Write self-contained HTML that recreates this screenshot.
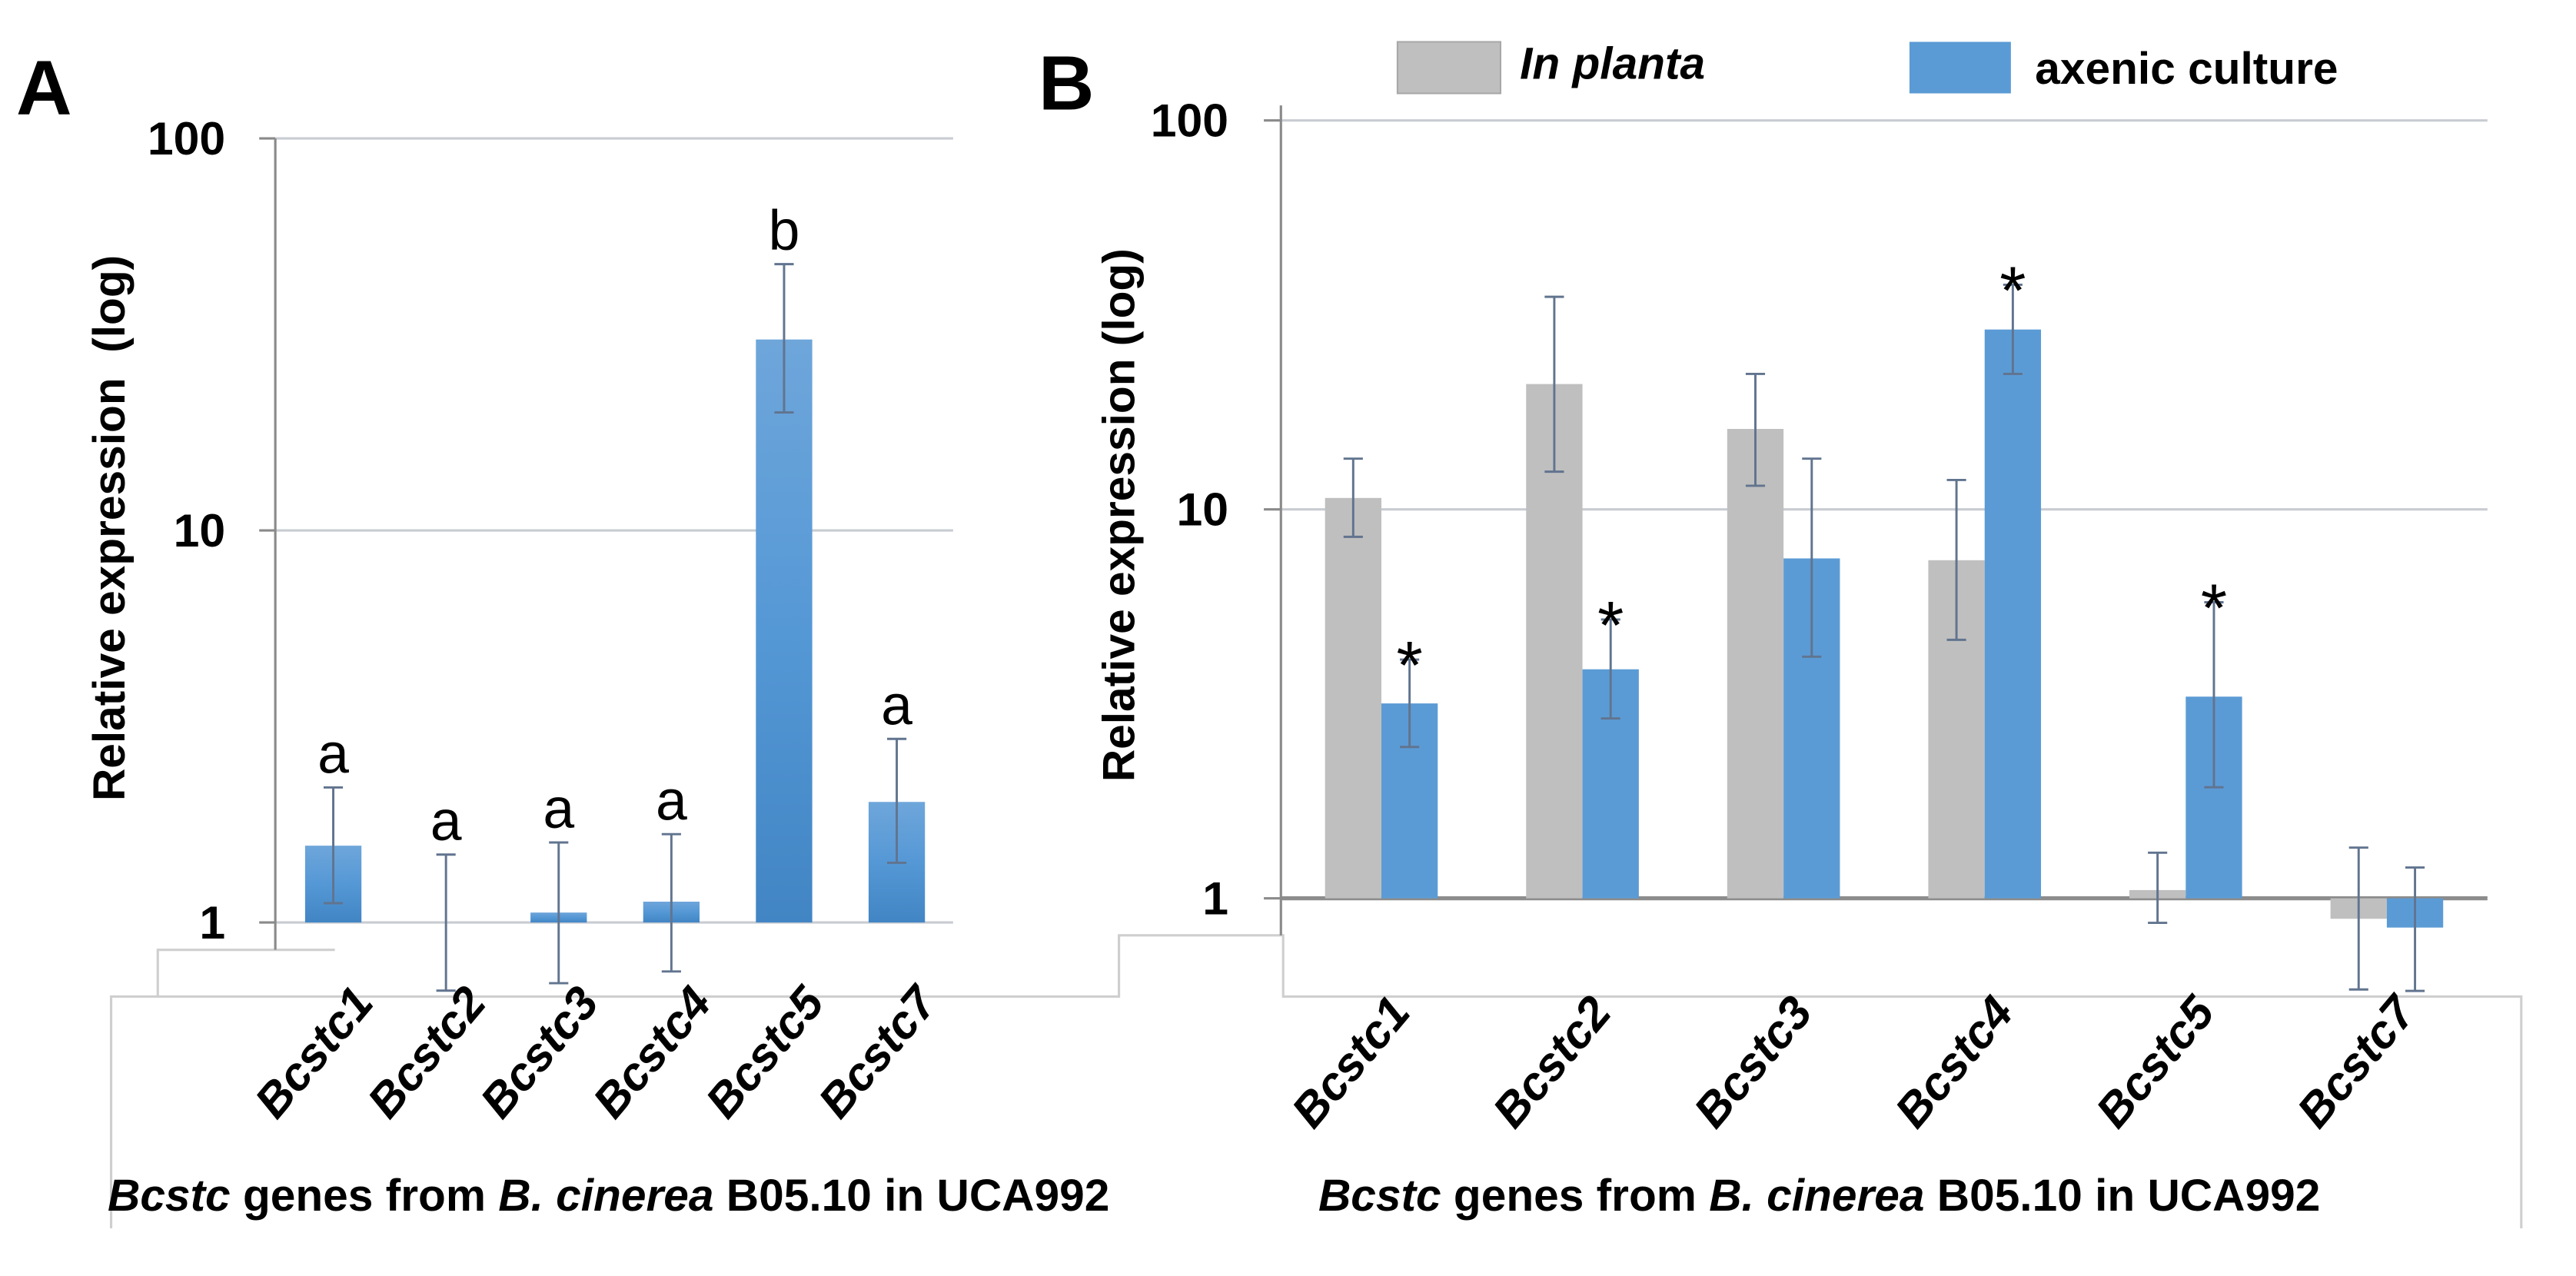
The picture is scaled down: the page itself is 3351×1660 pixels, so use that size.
<!DOCTYPE html>
<html><head><meta charset="utf-8"><style>
html,body{margin:0;padding:0;background:#fff;}
svg{display:block;}
text{font-family:"Liberation Sans",Arial,sans-serif;}
</style></head>
<body>
<svg id="chart" width="3351" height="1660" viewBox="0 0 1600 792.6" preserveAspectRatio="none" xmlns="http://www.w3.org/2000/svg">
<defs>
<linearGradient id="gA" x1="0" y1="0" x2="0" y2="1">
<stop offset="0" stop-color="#6ea6da"/><stop offset="0.5" stop-color="#5598d6"/><stop offset="1" stop-color="#4285c4"/>
</linearGradient>
</defs>
<g id="frame" fill="none" stroke="#cfcfcf" stroke-width="1.5">
<polyline points="208,590 98,590 98,619 69,619 69,763"/>
<polyline points="98,619 695,619 695,581 797,581 797,619 1566,619 1566,763"/>
</g>
<text x="10" y="71" font-size="48" font-weight="bold">A</text>
<text x="645" y="68" font-size="48" font-weight="bold">B</text>
<g id="pa"></g>
<g id="pb"></g>
<g>
<rect x="868" y="26" width="64" height="32" fill="#bfbfbf" stroke="#a8a8a8"/>
<text x="944" y="49" font-size="28" font-weight="bold" font-style="italic">In planta</text>
<rect x="1186" y="26" width="63" height="32" fill="#5b9bd5"/>
<text x="1264" y="52" font-size="28" font-weight="bold">axenic culture</text>
</g>
<text x="70" y="328" font-size="28" font-weight="bold" text-anchor="middle" transform="rotate(-90 70 328)" dominant-baseline="middle" xml:space="preserve">Relative expression  (log)</text>
<text x="697" y="320" font-size="28" font-weight="bold" text-anchor="middle" transform="rotate(-90 697 320)" dominant-baseline="middle">Relative expression (log)</text>
<text x="378" y="752" font-size="28" font-weight="bold" text-anchor="middle"><tspan font-style="italic">Bcstc</tspan> genes from <tspan font-style="italic">B. cinerea</tspan> B05.10 in UCA992</text>
<text x="1130" y="752" font-size="28" font-weight="bold" text-anchor="middle"><tspan font-style="italic">Bcstc</tspan> genes from <tspan font-style="italic">B. cinerea</tspan> B05.10 in UCA992</text>
</svg>
<script>
const NS='http://www.w3.org/2000/svg';
// Panel A data
const catsA=['Bcstc1','Bcstc2','Bcstc3','Bcstc4','Bcstc5','Bcstc7'];
const valsA=[1.57,1.0,1.06,1.13,30.7,2.03];
const errHiA=[2.21,1.49,1.60,1.68,47.8,2.94];
const errLoA=[1.12,0.67,0.70,0.75,20.0,1.42];
const lettersA=['a','a','a','a','b','a'];
// Panel B data
const catsB=['Bcstc1','Bcstc2','Bcstc3','Bcstc4','Bcstc5','Bcstc7'];
const plantaB=[10.7,21.0,16.1,7.4,1.05,0.886];
const plantaHiB=[13.5,35.2,22.3,11.9,1.31,1.35];
const plantaLoB=[8.5,12.5,11.5,4.62,0.865,0.583];
const axenicB=[3.17,3.88,7.48,29.0,3.3,0.841];
const axenicHiB=[4.11,5.21,13.5,37.8,5.77,1.20];
const axenicLoB=[2.45,2.9,4.18,22.3,1.93,0.578];
const starB=[true,true,false,true,true,false];
const ticks=[1,10,100];
const tickLabels=['1','10','100'];

function mk(parent,tag,attrs){const e=document.createElementNS(NS,tag);for(const k in attrs)e.setAttribute(k,attrs[k]);parent.appendChild(e);return e;}
function errbar(g,x,hi,lo,w){
  const e=mk(g,'path',{d:`M${x},${hi}V${lo}M${x-w},${hi}H${x+w}M${x-w},${lo}H${x+w}`,stroke:'#61748f','stroke-width':1.4,fill:'none'});
  
  
}

// Panel A
(function(){
  const g=document.getElementById('pa');
  const y=v=>573-Math.log10(v)*243.5;
  const x=i=>207+i*70;
  ticks.forEach((t,i)=>{
    const l=mk(g,'line',{x1:171,x2:592,y1:y(t),y2:y(t),stroke:'#c8ccd2','stroke-width':1.5});
    
    
    mk(g,'line',{x1:161,x2:171,y1:y(t),y2:y(t),stroke:'#8a8a8a','stroke-width':1.5});
    const tx=mk(g,'text',{x:140,y:y(t)+10,'font-size':29,'font-weight':'bold','text-anchor':'end'});
    tx.textContent=tickLabels[i];
    
    
  });
  const ax=mk(g,'line',{x1:171,x2:171,y1:86,y2:590,stroke:'#8a8a8a','stroke-width':1.5});
  
  
  catsA.forEach((c,i)=>{
    const top=y(valsA[i]),base=y(1);
    if(top<base-0.5){
      const r=mk(g,'rect',{x:x(i)-17.5,y:top,width:35,height:base-top,fill:'url(#gA)'});
      
      
    }
    errbar(g,x(i),y(errHiA[i]),y(errLoA[i]),6);
    const lt=mk(g,'text',{x:x(i),y:y(errHiA[i])-9,'font-size':35,'text-anchor':'middle'});
    lt.textContent=lettersA[i];
    
    
    const cx=x(i)+10,cy=610;
    const t=mk(g,'text',{x:cx,y:cy,'font-size':29,'font-weight':'bold','font-style':'italic','text-anchor':'end',transform:`rotate(-50 ${cx} ${cy})`,'dominant-baseline':'hanging'});
    t.textContent=c;
    
    
  });
})();

// Panel B
(function(){
  const g=document.getElementById('pb');
  const y=v=>558-Math.log10(v)*241.6;
  const x=i=>858+i*124.9;
  ticks.forEach((t,i)=>{
    const l=mk(g,'line',{x1:796,x2:1545,y1:y(t),y2:y(t),stroke:t===1?'#8c8c8c':'#c8ccd2','stroke-width':t===1?2.5:1.5});
    
    
    mk(g,'line',{x1:785,x2:796,y1:y(t),y2:y(t),stroke:'#8a8a8a','stroke-width':1.5});
    const tx=mk(g,'text',{x:763,y:y(t)+10,'font-size':29,'font-weight':'bold','text-anchor':'end'});
    tx.textContent=tickLabels[i];
    
    
  });
  const ax=mk(g,'line',{x1:795.6,x2:795.6,y1:65.5,y2:581,stroke:'#8a8a8a','stroke-width':1.5});
  
  
  const base=y(1);
  catsB.forEach((c,i)=>{
    const yp=y(plantaB[i]),ya=y(axenicB[i]);
    const r1=mk(g,'rect',{x:x(i)-35,y:Math.min(yp,base),width:35,height:Math.abs(base-yp),fill:'#bfbfbf'});
    
    
    const r2=mk(g,'rect',{x:x(i),y:Math.min(ya,base),width:35,height:Math.abs(base-ya),fill:'#5b9bd5'});
    
    
    errbar(g,x(i)-17.5,y(plantaHiB[i]),y(plantaLoB[i]),6);
    errbar(g,x(i)+17.5,y(axenicHiB[i]),y(axenicLoB[i]),6);
    if(starB[i]){
      const s=mk(g,'text',{x:x(i)+17.5,y:y(axenicHiB[i])+18,'font-size':42,'text-anchor':'middle'});
      s.textContent='*';
      
      
    }
    const cx=x(i)+3,cy=616;
    const t=mk(g,'text',{x:cx,y:cy,'font-size':29,'font-weight':'bold','font-style':'italic','text-anchor':'end',transform:`rotate(-50 ${cx} ${cy})`,'dominant-baseline':'hanging'});
    t.textContent=c;
    
    
  });
})();
</script>
</body></html>
